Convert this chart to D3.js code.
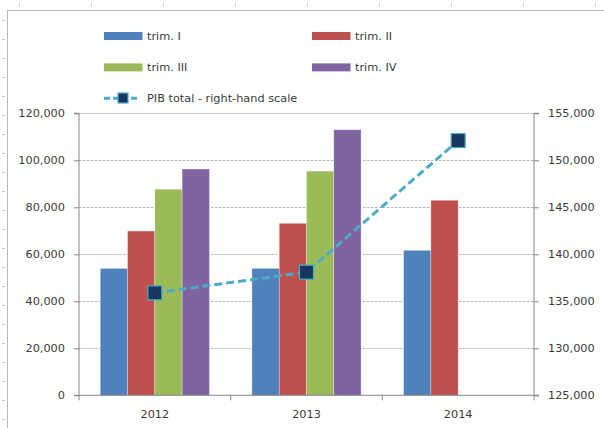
<!DOCTYPE html>
<html>
<head>
<meta charset="utf-8">
<script src="https://cdn.jsdelivr.net/npm/d3@7"></script>
<style>
  body { margin: 0; background: #fff; }
  text { font-family: "DejaVu Sans", sans-serif; fill: #3a3a3a; }
</style>
</head>
<body>
<svg id="chart"></svg>
<script>
const years = ['2012', '2013', '2014'];
const quarters = ['trim. I', 'trim. II', 'trim. III', 'trim. IV'];
const colors = ['#4f81bd', '#c0504d', '#9bbb59', '#8064a2'];
// quarterly values per year (null = not yet available)
const trimI   = [54000, 54000, 61700];
const trimII  = [69900, 73200, 83000];
const trimIII = [87700, 95400, null];
const trimIV  = [96300, 113000, null];
const pibTotal = [135900, 138100, 152100];
const leftTicks = [0, 20000, 40000, 60000, 80000, 100000, 120000];
const rightTicks = [125000, 130000, 135000, 140000, 145000, 150000, 155000];

const W = 604, H = 428;
const FS = 11.3;
const svg = d3.select('#chart').attr('width', W).attr('height', H);

// page frame / ruler bits around the embedded chart
svg.append('rect').attr('x', 7.5).attr('y', 10.5).attr('width', 620).attr('height', 430)
  .attr('fill', 'none').attr('stroke', '#b8b8b8');
svg.selectAll('.rt').data(d3.range(9)).enter().append('line')
  .attr('x1', d => 19.5 + d * 72).attr('x2', d => 19.5 + d * 72)
  .attr('y1', 3).attr('y2', 7).attr('stroke', '#ccc');
svg.selectAll('.lt').data(d3.range(22)).enter().append('line')
  .attr('x1', 2).attr('x2', 5)
  .attr('y1', d => 20.5 + d * 19).attr('y2', d => 20.5 + d * 19).attr('stroke', '#ccc');

const plot = { left: 79, right: 534, top: 113.3, bottom: 395.3 };

const x = d3.scaleBand().domain(years).range([plot.left, plot.right]).paddingInner(0).paddingOuter(0);
const barW = x.bandwidth() / (4 + 1.56);
const xs = d3.scaleBand().domain(quarters).range([barW * 0.78, barW * 4.78]);
const y = d3.scaleLinear().domain([0, 120000]).range([plot.bottom, plot.top]);
const y2 = d3.scaleLinear().domain([125000, 155000]).range([plot.bottom, plot.top]);

// grid
svg.append('g').selectAll('line').data(leftTicks.slice(1)).enter().append('line')
  .attr('x1', plot.left).attr('x2', plot.right)
  .attr('y1', d => Math.round(y(d)) + 0.5).attr('y2', d => Math.round(y(d)) + 0.5)
  .attr('stroke', '#b4b4b4').attr('stroke-dasharray', '2.5,1.5');

// bars
const series = [trimI, trimII, trimIII, trimIV];
series.forEach((vals, si) => {
  svg.append('g').selectAll('rect')
    .data(vals.map((v, i) => ({ year: years[i], v })).filter(d => d.v != null))
    .enter().append('rect')
    .attr('x', d => x(d.year) + xs(quarters[si]))
    .attr('width', xs.bandwidth())
    .attr('y', d => y(d.v))
    .attr('height', d => y(0) - y(d.v))
    .attr('fill', colors[si])
    .attr('stroke', '#fff').attr('stroke-opacity', 0.5).attr('stroke-width', 0.6);
});

// axes
const axisColor = '#868686';
const gL = svg.append('g').attr('transform', `translate(${plot.left},0)`)
  .call(d3.axisLeft(y).tickValues(leftTicks).tickSize(5).tickPadding(9).tickFormat(d3.format(',')));
const gR = svg.append('g').attr('transform', `translate(${plot.right},0)`)
  .call(d3.axisRight(y2).tickValues(rightTicks).tickSize(5).tickPadding(9).tickFormat(d3.format(',')));
const gB = svg.append('g').attr('transform', `translate(0,${plot.bottom})`)
  .call(d3.axisBottom(x).tickSize(0).tickPadding(15));
gB.append('g').selectAll('line').data(d3.range(4)).enter().append('line')
  .attr('x1', d => plot.left + d * x.bandwidth()).attr('x2', d => plot.left + d * x.bandwidth())
  .attr('y1', 0).attr('y2', 5);
[gL, gR, gB].forEach(g => {
  g.select('.domain').attr('stroke', axisColor);
  g.selectAll('line').attr('stroke', axisColor);
  g.selectAll('text').attr('font-size', FS).attr('fill', '#3a3a3a')
    .style('font-family', '"DejaVu Sans", sans-serif');
});
gL.select('.domain').attr('d', `M-5,${plot.top}H0V${plot.bottom}H-5`);
gR.select('.domain').attr('d', `M5,${plot.top}H0V${plot.bottom}H5`);
gB.select('.domain').attr('d', `M${plot.left},0H${plot.right}`);

// PIB line
const line = d3.line().x((d, i) => x(years[i]) + x.bandwidth() / 2).y(d => y2(d));
svg.append('path').datum(pibTotal).attr('d', line)
  .attr('fill', 'none').attr('stroke', '#4bacc6').attr('stroke-width', 3)
  .attr('stroke-dasharray', '8,4');
svg.append('g').selectAll('rect').data(pibTotal).enter().append('rect')
  .attr('x', (d, i) => x(years[i]) + x.bandwidth() / 2 - 7)
  .attr('y', d => y2(d) - 7)
  .attr('width', 14).attr('height', 14)
  .attr('fill', '#17375e').attr('stroke', '#4bacc6').attr('stroke-width', 1.2);

// legend
const leg = svg.append('g');
const legPos = [[104, 36], [312, 36], [104, 67.4], [312, 67.4]];
quarters.forEach((q, i) => {
  const [lx, ly] = legPos[i];
  leg.append('rect').attr('x', lx).attr('y', ly - 4).attr('width', 38.5).attr('height', 8).attr('fill', colors[i]);
  leg.append('text').attr('x', lx + 43).attr('y', ly + 4).attr('font-size', FS).text(q);
});
leg.append('line').attr('x1', 104).attr('x2', 140).attr('y1', 98.2).attr('y2', 98.2)
  .attr('stroke', '#4bacc6').attr('stroke-width', 3).attr('stroke-dasharray', '6,3');
leg.append('rect').attr('x', 118).attr('y', 93).attr('width', 10).attr('height', 10)
  .attr('fill', '#17375e').attr('stroke', '#4bacc6').attr('stroke-width', 1.2);
leg.append('text').attr('x', 147).attr('y', 102.2).attr('font-size', FS).text('PIB total - right-hand scale');
</script>
</body>
</html>
